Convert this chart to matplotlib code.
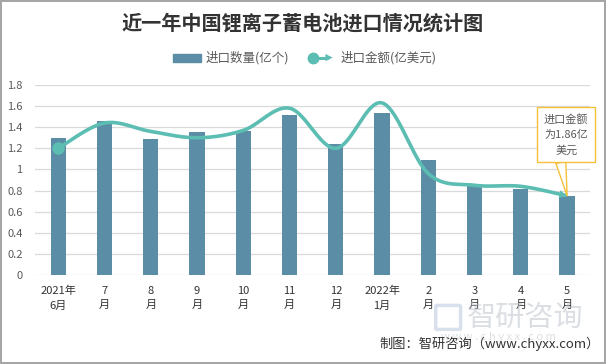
import numpy as np
import matplotlib.pyplot as plt
from matplotlib.lines import Line2D
from matplotlib.patches import Rectangle, FancyArrowPatch, FancyBboxPatch
from matplotlib.legend_handler import HandlerBase

plt.rcParams['font.family'] = ['Noto Sans CJK SC', 'DejaVu Sans']

# data
months = ['2021年\n6月', '7\n月', '8\n月', '9\n月', '10\n月', '11\n月', '12\n月',
          '2022年\n1月', '2\n月', '3\n月', '4\n月', '5\n月']
qty = [1.30, 1.46, 1.29, 1.35, 1.36, 1.52, 1.24, 1.53, 1.09, 0.86, 0.81, 0.75]
amount = [1.20, 1.44, 1.36, 1.30, 1.37, 1.58, 1.20, 1.63, 0.96, 0.85, 0.84, 0.75]

bar_color = '#5B8DA6'
line_color = '#5CBDB3'
text_color = '#595959'


def smooth(xs, ys, n=40):
    # Excel-like smoothed line (Catmull-Rom as bezier)
    p = np.column_stack([xs, ys]).astype(float)
    p = np.vstack([p[0], p, p[-1]])
    t = np.linspace(0, 1, n)[:, None]
    out = []
    for i in range(1, len(p) - 2):
        p0, p1, p2, p3 = p[i - 1], p[i], p[i + 1], p[i + 2]
        c1 = p1 + (p2 - p0) / 6
        c2 = p2 - (p3 - p1) / 6
        seg = ((1 - t) ** 3) * p1 + 3 * ((1 - t) ** 2) * t * c1 + 3 * (1 - t) * t ** 2 * c2 + t ** 3 * p2
        out.append(seg if i == 1 else seg[1:])
    return np.vstack(out)


class ArrowLineHandler(HandlerBase):
    def create_artists(self, legend, orig_handle, xdescent, ydescent, width, height, fontsize, trans):
        y = height / 2 - ydescent
        x0, x1 = -xdescent + 4, width - xdescent
        ln = Line2D([x0, x1 - 6], [y, y], color=line_color, lw=2.2, transform=trans)
        dot = Line2D([x0], [y], marker='o', ms=7.5, color=line_color, transform=trans)
        arr = FancyArrowPatch((x1 - 12, y), (x1, y), arrowstyle='-|>',
                              mutation_scale=13, color=line_color, lw=0, transform=trans)
        return [ln, dot, arr]


fig = plt.figure(figsize=(6.06, 3.64), dpi=100)
fig.patch.set_edgecolor('#A6A6A6')
fig.patch.set_linewidth(1.5)
ax = fig.add_axes([0.058, 0.2445, 0.916, 0.522])

x = np.arange(len(months))
ax.bar(x, qty, width=0.33, color=bar_color, zorder=2)

curve = smooth(x, amount)
ax.plot(curve[:-3, 0], curve[:-3, 1], color=line_color, lw=2.6, zorder=3, solid_capstyle='round')
ax.plot([x[0]], [amount[0]], 'o', color=line_color, ms=8, zorder=4)
ax.add_patch(FancyArrowPatch(tuple(curve[-6]), tuple(curve[-1]), arrowstyle='-|>',
                             mutation_scale=14, color=line_color, lw=0, zorder=4))

ax.set_xlim(-0.5, len(months) - 0.5)
ax.set_ylim(0, 1.8)
ax.set_yticks(np.arange(0, 1.81, 0.2))
ax.set_yticklabels(['0', '0.2', '0.4', '0.6', '0.8', '1', '1.2', '1.4', '1.6', '1.8'])
ax.set_xticks(x)
ax.set_xticklabels(months, linespacing=1.5)
ax.tick_params(axis='both', length=0, labelsize=8, colors=text_color)
ax.tick_params(axis='y', pad=9)
ax.tick_params(axis='x', pad=8)
for lab in ax.get_xticklabels():
    lab.set_color('#333333')
for s in ax.spines.values():
    s.set_visible(False)
ax.grid(axis='y', color='#D9D9D9', lw=0.9, zorder=0)
ax.set_axisbelow(True)

# callout
ax.annotate('进口金额\n为1.86亿\n美元', xy=(x[-1], amount[-1]), xytext=(x[-1] - 0.02, 1.33),
            ha='center', va='center', fontsize=8, color=text_color, linespacing=1.6,
            bbox=dict(boxstyle='square,pad=0.6', fc='white', ec='#F5C03A', lw=1),
            arrowprops=dict(arrowstyle='wedge,tail_width=0.9', fc='white', ec='#F5C03A', lw=1,
                            relpos=(0.35, 0.0), shrinkA=0, shrinkB=0),
            zorder=6)

# title and legend
fig.text(0.5, 0.937, '近一年中国锂离子蓄电池进口情况统计图', ha='center', va='center',
         fontsize=14.5, fontweight='bold', color='#333333')
handles = [Rectangle((0, 0), 1, 1, color=bar_color), Line2D([], [])]
fig.legend(handles, ['进口数量(亿个)', '进口金额(亿美元)'], loc='center', bbox_to_anchor=(0.503, 0.84),
           ncol=2, frameon=False, fontsize=9, handlelength=2.2, handleheight=0.6, columnspacing=1.5,
           handletextpad=0.4, labelcolor=text_color,
           handler_map={handles[1]: ArrowLineHandler()})

# watermark
fig.text(0.77, 0.128, '智研咨询', fontsize=21, color='#B8C0C8', alpha=0.5, ha='left', va='center')
fig.text(0.727, 0.075, 'w w w . c h y x x . c o m', fontsize=8, color='#B8C0C8', alpha=0.5,
         ha='left', va='center')
fig.patches.append(FancyBboxPatch((0.722, 0.098), 0.035, 0.06, boxstyle='round,pad=0.003',
                                  transform=fig.transFigure, fc='none', ec='#A9BCD6', lw=2.5, alpha=0.45))

fig.text(0.99, 0.055, '制图：智研咨询（www.chyxx.com）', ha='right', va='center',
         fontsize=9.5, color='#333333')

fig.savefig('out.png', dpi=100)
